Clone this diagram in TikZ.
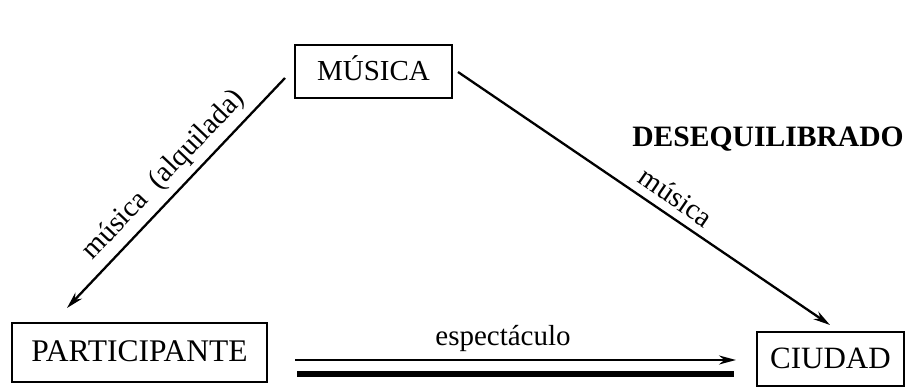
\documentclass[tikz,border=0pt]{standalone}
\usepackage{fontspec}
\setmainfont{Liberation Serif}
\usetikzlibrary{arrows.meta}
\begin{document}
\begin{tikzpicture}[x=1pt,y=1pt,
  box/.style={draw,line width=2.6pt,inner sep=0pt,text height=19pt,text depth=0pt},
  lbl/.style={inner sep=0pt,font=\fontsize{29}{29}\selectfont},
  conn/.style={line width=2.3pt,-{Stealth[length=17pt,width=9pt]}}]
\useasboundingbox (0,0) rectangle (906,387);
\node[box,font=\fontsize{29}{29}\selectfont,minimum width=157pt,minimum height=53pt] (mus) at (373.5,315.5) {MÚSICA};
\node[box,font=\fontsize{31.5}{31.5}\selectfont,minimum width=255pt,minimum height=59pt] (par) at (139.5,34.5) {PARTICIPANTE};
\node[box,font=\fontsize{31}{31}\selectfont,minimum width=147pt,minimum height=54pt] (ciu) at (830.5,28) {CIUDAD};
\coordinate (l1) at (285,309);
\coordinate (l2) at (67,79);
\coordinate (r1) at (458,315);
\coordinate (r2) at (830,62);
\coordinate (b1) at (295,27);
\coordinate (b2) at (736,27);
\coordinate (t1) at (297,13);
\coordinate (t2) at (734,13);
\draw[conn] (l1) -- (l2);
\draw[conn] (r1) -- (r2);
\draw[conn] (b1) -- (b2);
\draw[line width=6pt] (t1) -- (t2);
\node[lbl,rotate=46.5] (lab1) at (164,212) {música\ \ (alquilada)};
\node[lbl,rotate=-34.5] (lab2) at (676,190) {música};
\node[lbl] (lab3) at (503,48) {espectáculo};
\node[lbl,font=\fontsize{29.6}{29.6}\selectfont\bfseries] (des) at (768,248) {DESEQUILIBRADO};
\end{tikzpicture}
\end{document}
